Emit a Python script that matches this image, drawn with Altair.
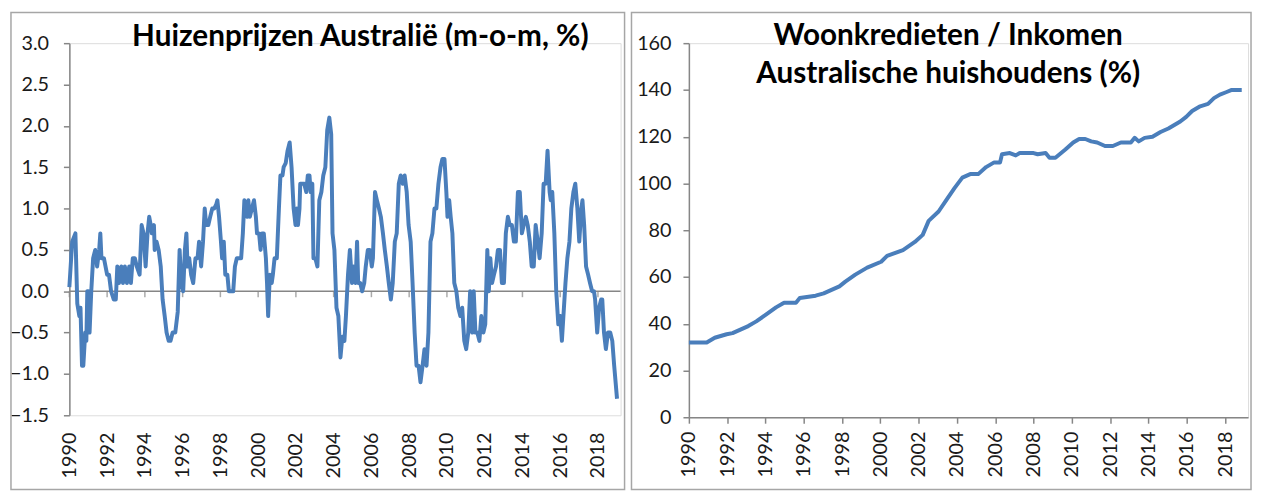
import altair as alt
import pandas as pd

# ---------------- data ----------------
# Left panel: house prices Australia, m-o-m %, time as years after 1990
left_t = [0.00, 0.15, 0.32, 0.42, 0.53, 0.59, 0.67, 0.74, 0.84, 0.90, 0.95, 1.01, 1.07, 1.16, 1.26, 1.37,
          1.47, 1.58, 1.64, 1.70, 1.83, 2.00, 2.10, 2.21, 2.35, 2.46, 2.54, 2.63, 2.75, 2.84, 2.94, 3.05,
          3.17, 3.26, 3.36, 3.47, 3.57, 3.72, 3.83, 3.93, 4.04, 4.14, 4.23, 4.31, 4.37, 4.48, 4.52, 4.62,
          4.73, 4.84, 4.94, 5.05, 5.15, 5.26, 5.36, 5.47, 5.61, 5.74, 5.84, 5.93, 6.03, 6.12, 6.20, 6.26,
          6.35, 6.45, 6.56, 6.68, 6.79, 6.87, 6.98, 7.08, 7.17, 7.25, 7.36, 7.46, 7.57, 7.67, 7.78, 7.84,
          7.93, 8.03, 8.09, 8.18, 8.26, 8.37, 8.45, 8.58, 8.68, 8.77, 8.87, 9.00, 9.10, 9.19, 9.27, 9.33,
          9.42, 9.48, 9.56, 9.67, 9.78, 9.88, 9.94, 10.05, 10.13, 10.20, 10.30, 10.41, 10.47, 10.53, 10.62,
          10.72, 10.78, 10.87, 10.99, 11.10, 11.18, 11.29, 11.35, 11.46, 11.56, 11.67, 11.77, 11.88, 11.98,
          12.05, 12.11, 12.19, 12.23, 12.34, 12.44, 12.55, 12.63, 12.72, 12.78, 12.87, 12.93, 13.03, 13.14,
          13.24, 13.35, 13.45, 13.56, 13.66, 13.77, 13.87, 13.94, 14.04, 14.15, 14.25, 14.36, 14.46, 14.57,
          14.65, 14.76, 14.86, 14.97, 15.05, 15.16, 15.24, 15.30, 15.41, 15.51, 15.62, 15.70, 15.81, 15.91,
          16.02, 16.08, 16.19, 16.29, 16.40, 16.50, 16.61, 16.71, 16.82, 16.92, 17.03, 17.13, 17.24, 17.34,
          17.45, 17.55, 17.66, 17.76, 17.87, 17.97, 18.08, 18.18, 18.29, 18.39, 18.50, 18.60, 18.71, 18.81,
          18.92, 19.02, 19.13, 19.23, 19.34, 19.44, 19.55, 19.66, 19.76, 19.87, 19.97, 20.03, 20.12, 20.20,
          20.29, 20.39, 20.50, 20.60, 20.71, 20.81, 20.92, 21.02, 21.13, 21.23, 21.34, 21.42, 21.51, 21.61,
          21.72, 21.82, 21.93, 22.03, 22.14, 22.22, 22.30, 22.39, 22.49, 22.60, 22.70, 22.81, 22.91, 23.02,
          23.12, 23.23, 23.33, 23.44, 23.55, 23.65, 23.76, 23.86, 23.97, 24.07, 24.18, 24.28, 24.39, 24.49,
          24.60, 24.70, 24.81, 24.91, 25.02, 25.12, 25.23, 25.33, 25.44, 25.50, 25.58, 25.69, 25.79, 25.90,
          26.00, 26.09, 26.17, 26.28, 26.38, 26.49, 26.59, 26.70, 26.80, 26.91, 27.01, 27.12, 27.18, 27.27,
          27.37, 27.48, 27.58, 27.69, 27.79, 27.85, 27.96, 28.06, 28.17, 28.23, 28.32, 28.42, 28.53, 28.65,
          28.76, 28.86, 29.01]
left_v = [0.05, 0.6, 0.7, -0.15, -0.3, -0.2, -0.9, -0.9, -0.5, -0.6, 0.0, 0.0, -0.5, 0.0, 0.4, 0.5,
          0.3, 0.5, 0.7, 0.4, 0.4, 0.2, 0.2, 0.0, -0.1, -0.1, 0.3, 0.1, 0.3, 0.1, 0.3, 0.1,
          0.3, 0.1, 0.4, 0.4, 0.3, 0.2, 0.8, 0.7, 0.3, 0.7, 0.9, 0.8, 0.7, 0.8, 0.5, 0.6,
          0.5, 0.3, -0.1, -0.3, -0.5, -0.6, -0.6, -0.5, -0.5, -0.25, 0.5, 0.1, 0.0, 0.5, 0.7, 0.3,
          0.4, 0.2, 0.1, 0.4, 0.4, 0.6, 0.3, 0.6, 1.0, 0.8, 0.8, 0.9, 1.0, 1.0, 1.05, 1.1,
          0.9, 0.6, 0.4, 0.6, 0.2, 0.2, 0.0, 0.0, 0.0, 0.3, 0.4, 0.4, 0.4, 0.7, 1.1, 1.0,
          0.9, 1.1, 0.9, 1.0, 1.1, 0.9, 0.7, 0.7, 0.5, 0.7, 0.7, 0.4, 0.1, -0.3, 0.2,
          0.1, 0.2, 0.4, 0.4, 1.0, 1.4, 1.4, 1.5, 1.55, 1.7, 1.8, 1.5, 1.0, 0.8,
          1.0, 0.8, 1.0, 1.3, 1.3, 1.3, 1.2, 1.4, 1.4, 1.2, 1.3, 0.4, 0.4, 0.3,
          1.1, 1.2, 1.4, 1.5, 1.95, 2.1, 1.9, 0.7, 0.5, -0.2, -0.3, -0.8, -0.55, -0.6,
          -0.3, 0.2, 0.5, 0.1, 0.3, 0.1, 0.6, 0.1, 0.1, 0.0, 0.1, 0.3, 0.5, 0.5,
          0.3, 0.4, 1.2, 1.1, 1.0, 0.9, 0.7, 0.5, 0.3, 0.1, -0.1, 0.1, 0.6, 0.7,
          1.3, 1.4, 1.3, 1.4, 1.2, 0.8, 0.6, 0.1, -0.5, -0.9, -0.9, -1.1, -0.9, -0.7,
          -0.9, -0.5, 0.6, 0.7, 1.0, 1.0, 1.3, 1.5, 1.6, 1.6, 1.2, 0.9, 1.1, 0.9,
          0.7, 0.1, 0.0, -0.2, -0.3, -0.2, -0.6, -0.7, -0.5, 0.0, -0.5, 0.0, -0.5, -0.5,
          -0.6, -0.3, -0.5, -0.4, 0.5, 0.0, 0.4, 0.1, 0.2, 0.3, 0.5, 0.5, 0.1, 0.1,
          0.7, 0.9, 0.8, 0.8, 0.6, 0.6, 1.2, 1.2, 0.7, 0.8, 0.9, 0.8, 0.6, 0.3,
          0.3, 0.8, 0.6, 0.4, 0.7, 1.3, 1.3, 1.7, 1.2, 1.1, 1.2, 0.7, 0.0, -0.4,
          -0.3, -0.6, -0.3, 0.1, 0.4, 0.6, 1.0, 1.2, 1.3, 1.0, 0.6, 1.0, 1.1, 0.8,
          0.3, 0.2, 0.1, 0.0, 0.0, -0.1, -0.5, -0.2, -0.1, -0.1, -0.5, -0.7, -0.5, -0.5,
          -0.6, -0.9, -1.3]

# Right panel: housing credit / income of Australian households (%)
right_t = [0.00, 0.93, 1.35, 1.97, 2.28, 3.10, 3.52, 4.04, 4.55, 4.97, 5.59, 5.79, 6.62, 7.04, 7.86,
           8.17, 8.69, 9.31, 10.04, 10.35, 11.18, 11.80, 12.21, 12.52, 13.04, 13.45, 13.87, 14.28,
           14.69, 15.11, 15.52, 15.94, 16.25, 16.35, 16.76, 17.07, 17.28, 18.00, 18.21, 18.63, 18.83,
           19.14, 19.66, 20.07, 20.38, 20.70, 21.01, 21.32, 21.73, 22.14, 22.56, 23.08, 23.28, 23.49,
           23.80, 24.21, 24.63, 25.04, 25.35, 25.66, 25.97, 26.28, 26.70, 27.11, 27.42, 27.73, 28.05,
           28.35, 28.87]
right_v = [32, 32, 34, 35.5, 36, 39, 41, 44, 47, 49, 49, 51, 52, 53, 56,
           58, 61, 64, 66.5, 69, 71.5, 75, 78, 84, 88, 93, 98, 102.5,
           104, 104, 107, 109, 109, 112.5, 113, 112, 113, 113, 112.5, 113, 111,
           111, 114.5, 117.5, 119, 119, 118, 117.5, 116, 116, 117.5, 117.5, 119.5, 118,
           119.5, 120, 122, 123.5, 125, 126.5, 128.5, 131, 133, 134, 136.5, 138, 139,
           140, 140]

year_ticks = list(range(1990, 2019, 2))
x_end = 2019.2
left_y_ticks = [-1.5, -1.0, -0.5, 0.0, 0.5, 1.0, 1.5, 2.0, 2.5, 3.0]
right_y_ticks = [0, 20, 40, 60, 80, 100, 120, 140, 160]

left_title = "Huizenprijzen Australië (m-o-m, %)"
right_title_1 = "Woonkredieten / Inkomen"
right_title_2 = "Australische huishoudens (%)"

# ---------------- styling ----------------
BLUE = "#4a7ebb"
AXIS = "#868686"
BORDER = "#a6a6a6"
FONT = "Lato"
LABEL = "#1a1a1a"
LFS = 20   # axis label font size
TFS = 30   # title font size

df_l = pd.DataFrame({"jaar": [1990 + t for t in left_t], "waarde": left_v})
df_r = pd.DataFrame({"jaar": [1990 + t for t in right_t], "waarde": right_v})
df_ticks = pd.DataFrame({"jaar": year_ticks, "waarde": [0.0] * len(year_ticks)})
df_zero = pd.DataFrame({"jaar": [1990, x_end], "waarde": [0.0, 0.0]})
one = pd.DataFrame({"k": [0]})

LW, LH = 557, 376
RW, RH = 565, 378


def year_axis(pad, ticks):
    return alt.Axis(values=year_ticks, format="d", labelAngle=-90, labelFontSize=LFS,
                    labelFont=FONT, labelColor=LABEL, labelPadding=pad, grid=False,
                    domain=ticks, domainColor=AXIS, domainWidth=1.5,
                    ticks=ticks, tickSize=6 if ticks else 0, tickColor=AXIS, tickWidth=1.5,
                    title=None, labelOverlap=False)


def y_axis(vals, fmt, pad):
    return alt.Axis(values=vals, format=fmt, labelFontSize=LFS, labelFont=FONT,
                    labelColor=LABEL, labelPadding=pad, grid=False, domainColor=AXIS,
                    domainWidth=1.5, tickColor=AXIS, tickWidth=1.5, tickSize=6, title=None,
                    labelOverlap=False)


# ---------------- left panel ----------------
lx = alt.X("jaar:Q", scale=alt.Scale(domain=[1990, x_end], nice=False, zero=False),
           axis=year_axis(17, False))
ly = alt.Y("waarde:Q", scale=alt.Scale(domain=[-1.5, 3.0], nice=False, zero=False),
           axis=y_axis(left_y_ticks, ".1f", 15))

l_border = alt.Chart(one).mark_rect(fillOpacity=0, stroke=BORDER, strokeWidth=1.5).encode(
    x=alt.value(-59), x2=alt.value(561), y=alt.value(-31), y2=alt.value(451))
l_zero = alt.Chart(df_zero).mark_line(color=AXIS, strokeWidth=1.5).encode(x=lx, y=ly)
l_tick = alt.Chart(df_ticks).mark_tick(orient="vertical", size=6, thickness=1.5, color=AXIS,
                                       yOffset=3).encode(x=lx, y=ly)
l_line = alt.Chart(df_l).mark_line(color=BLUE, strokeWidth=4, strokeJoin="round").encode(x=lx, y=ly)
l_title = alt.Chart(one).mark_text(text=left_title, font=FONT, fontSize=TFS, fontWeight="bold",
                                   color="#000000", align="center", baseline="middle").encode(
    x=alt.value(294), y=alt.value(-6))

left = alt.layer(l_border, l_zero, l_tick, l_line, l_title).properties(width=LW, height=LH)

# ---------------- right panel ----------------
rx = alt.X("jaar:Q", scale=alt.Scale(domain=[1990, x_end], nice=False, zero=False),
           axis=year_axis(8, True))
ry = alt.Y("waarde:Q", scale=alt.Scale(domain=[0, 160], nice=False, zero=False),
           axis=y_axis(right_y_ticks, "d", 12))

r_border = alt.Chart(one).mark_rect(fillOpacity=0, stroke=BORDER, strokeWidth=1.5).encode(
    x=alt.value(-58), x2=alt.value(568), y=alt.value(-31), y2=alt.value(451))
r_line = alt.Chart(df_r).mark_line(color=BLUE, strokeWidth=4, strokeJoin="round").encode(x=rx, y=ry)
r_title1 = alt.Chart(one).mark_text(text=right_title_1, font=FONT, fontSize=TFS, fontWeight="bold",
                                    color="#000000", align="center", baseline="middle").encode(
    x=alt.value(262), y=alt.value(-7))
r_title2 = alt.Chart(one).mark_text(text=right_title_2, font=FONT, fontSize=TFS, fontWeight="bold",
                                    color="#000000", align="center", baseline="middle").encode(
    x=alt.value(262), y=alt.value(31))

right = alt.layer(r_border, r_line, r_title1, r_title2).properties(width=RW, height=RH)

chart = alt.hconcat(left, right, spacing=3).properties(
    padding={"left": 0, "top": 0, "right": 0, "bottom": 0}
).configure_view(strokeWidth=0).configure(background="white")

chart.save("out.html", embed_options={"renderer": "svg", "actions": False})
